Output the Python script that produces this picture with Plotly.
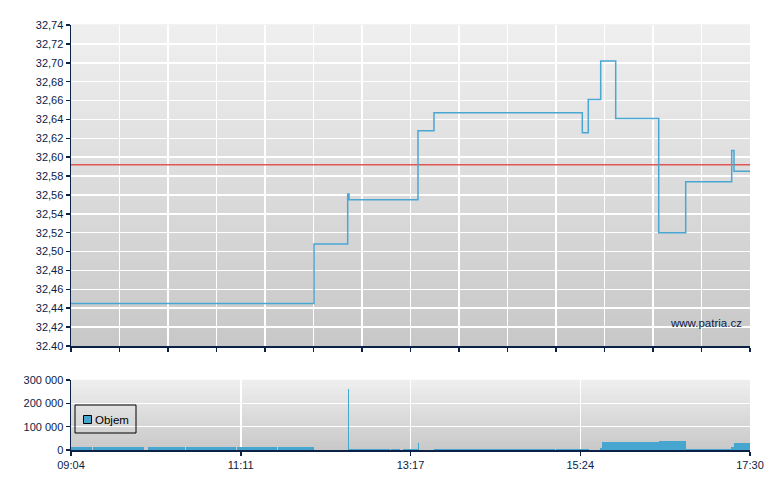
import plotly.graph_objects as go
from datetime import datetime

# ---------------- data ----------------
DAY = "2024-01-01"
session_start = "09:04:00"
session_end = "17:30:00"

price_times = ["09:04:00", "12:05:05", "12:30:12", "12:31:10", "13:22:35", "13:34:30",
               "15:25:02", "15:29:30", "15:38:44", "15:49:55", "16:21:58", "16:42:05",
               "17:16:22", "17:18:04", "17:30:00"]
price_values = [32.445, 32.508, 32.561, 32.555, 32.628, 32.647,
                32.626, 32.661, 32.702, 32.641, 32.520, 32.574,
                32.607, 32.585, 32.585]

reference_price = 32.592

vol_start = ["09:04:00", "09:20:23", "10:01:10", "10:29:42", "11:07:42", "11:38:16",
             "12:30:12", "12:31:10", "13:02:28", "13:11:11", "13:22:35", "13:34:30",
             "15:05:26", "15:38:13", "15:39:43", "16:22:11", "16:42:05", "17:15:50",
             "17:18:04"]
vol_end = ["09:19:24", "09:58:37", "10:28:57", "11:06:58", "11:37:17", "12:05:05",
           "12:31:10", "13:01:43", "13:09:10", "13:22:35", "13:23:20", "15:04:41",
           "15:30:01", "15:39:43", "16:22:11", "16:42:05", "17:15:50", "17:18:04",
           "17:30:00"]
vol_values = [13000, 13000, 13000, 13000, 13000, 13000,
              261000, 4000, 4000, 4000, 31000, 5000,
              5000, 8000, 34000, 39000, 4000, 13000,
              30000]

price_ticks = [32.40, 32.42, 32.44, 32.46, 32.48, 32.50, 32.52, 32.54, 32.56,
               32.58, 32.60, 32.62, 32.64, 32.66, 32.68, 32.70, 32.72, 32.74]
price_tick_labels = ["32.40", "32,42", "32,44", "32,46", "32,48", "32,50", "32,52",
                     "32,54", "32,56", "32,58", "32,60", "32,62", "32,64", "32,66",
                     "32,68", "32,70", "32,72", "32,74"]
vol_ticks = [0, 100000, 200000, 300000]
vol_tick_labels = ["0", "100 000", "200 000", "300 000"]
time_tick_labels = ["09:04", "11:11", "13:17", "15:24", "17:30"]
legend_label = "Objem"
watermark = "www.patria.cz"

# ---------------- helpers ----------------
def ts(s):
    return datetime.strptime(DAY + " " + s, "%Y-%m-%d %H:%M:%S")

t0 = ts(session_start)
t1 = ts(session_end)
span = t1 - t0

top_grid = [t0 + span * i / 14 for i in range(15)]
bottom_ticks = [t0 + span * i / 4 for i in range(5)]

NAVY = "#0c2146"
LINE_BLUE = "#4aa7d3"
BAR_BLUE = "#47a6cf"
FONT = "Liberation Sans"

# plot area in pixels: x 71..750, y 25..450 (paper)
def px_x(p):
    return (p - 71) / 679.0

def px_y(p):
    return (450 - p) / 425.0

fig = go.Figure()

fig.add_trace(go.Scatter(
    x=[t0, t1], y=[reference_price, reference_price],
    mode="lines", line=dict(color="#e05555", width=1.5),
    xaxis="x", yaxis="y", showlegend=False, hoverinfo="skip"))

fig.add_trace(go.Scatter(
    x=[ts(t) for t in price_times], y=price_values,
    mode="lines", line=dict(color=LINE_BLUE, width=1.5, shape="hv"),
    xaxis="x", yaxis="y", showlegend=False))

starts = [ts(s) for s in vol_start]
widths = [(ts(e) - ts(s)).total_seconds() * 1000 for s, e in zip(vol_start, vol_end)]
fig.add_trace(go.Bar(
    x=starts, y=vol_values, width=widths, offset=0,
    marker=dict(color=BAR_BLUE, line=dict(width=0)),
    xaxis="x2", yaxis="y2", showlegend=False, name=legend_label))

# gradient backgrounds
shapes = []
N = 40
def lerp(a, b, f):
    return int(round(a + (b - a) * f))
for yref, xref in [("y domain", "x domain"), ("y2 domain", "x2 domain")]:
    for i in range(N):
        f = i / (N - 1)
        c = lerp(0xC8, 0xEF, f)
        shapes.append(dict(type="rect", xref=xref, yref=yref,
                           x0=0, x1=1, y0=i / N, y1=(i + 1) / N + 0.002,
                           fillcolor=f"rgb({c},{c},{c})", line=dict(width=0),
                           layer="below"))

# legend box and symbol
shapes.append(dict(type="rect", xref="paper", yref="paper",
                   x0=px_x(75), x1=px_x(136), y0=px_y(433), y1=px_y(405),
                   line=dict(color="black", width=1), fillcolor="rgba(0,0,0,0)",
                   layer="above"))
shapes.append(dict(type="rect", xref="paper", yref="paper",
                   x0=px_x(83.5), x1=px_x(91.5), y0=px_y(423.5), y1=px_y(415.5),
                   line=dict(color="black", width=1), fillcolor=BAR_BLUE,
                   layer="above"))

axis_common = dict(showline=True, linecolor=NAVY, linewidth=1.5,
                   ticks="outside", ticklen=4, tickcolor=NAVY, tickwidth=1.5,
                   showgrid=True, gridcolor="white", gridwidth=1.5, zeroline=False,
                   tickfont=dict(family=FONT, size=11, color=NAVY))

fig.update_layout(
    width=780, height=490,
    margin=dict(l=71, r=30, t=25, b=40),
    paper_bgcolor="white", plot_bgcolor="#dcdcdc",
    font=dict(family=FONT, size=11, color=NAVY),
    shapes=shapes,
    hovermode=False,
    xaxis=dict(domain=[0, 1], anchor="y", type="date", range=[t0, t1],
               tickmode="array", tickvals=top_grid, showticklabels=False, **axis_common),
    yaxis=dict(domain=[px_y(346), 1], anchor="x", range=[32.40, 32.74],
               tickmode="array", tickvals=price_ticks, ticktext=price_tick_labels,
               **axis_common),
    xaxis2=dict(domain=[0, 1], anchor="y2", type="date", range=[t0, t1],
                tickmode="array", tickvals=bottom_ticks, ticktext=time_tick_labels,
                **axis_common),
    yaxis2=dict(domain=[0, px_y(380)], anchor="x2", range=[0, 300000],
                tickmode="array", tickvals=vol_ticks, ticktext=vol_tick_labels,
                **axis_common),
    annotations=[
        dict(text=watermark, xref="paper", yref="paper",
             x=px_x(744), y=px_y(323), xanchor="right", yanchor="middle",
             showarrow=False, font=dict(family=FONT, size=11.5, color=NAVY)),
        dict(text=legend_label, xref="paper", yref="paper",
             x=px_x(93), y=px_y(419.5), xanchor="left", yanchor="middle",
             showarrow=False, font=dict(family=FONT, size=11.5, color="black")),
    ],
    showlegend=False,
    bargap=0,
)

fig.write_html("out.html", config={"displayModeBar": False, "staticPlot": True},
               post_script="document.body.style.margin='0';")
